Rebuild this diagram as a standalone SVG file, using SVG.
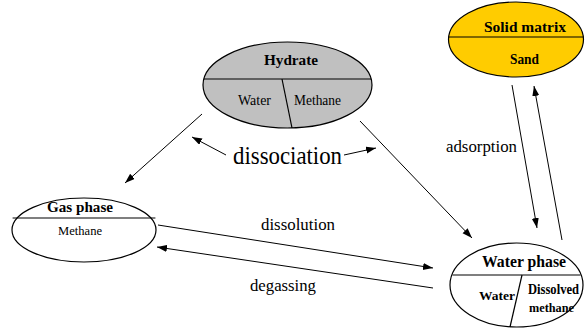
<svg xmlns="http://www.w3.org/2000/svg" width="585" height="329" viewBox="0 0 585 329">
<defs>
<marker id="arr" markerUnits="userSpaceOnUse" markerWidth="11" markerHeight="8" refX="10" refY="3.5" orient="auto">
<path d="M0,0 L10,3.5 L0,7 z" fill="#000"/>
</marker>
<style>
.node ellipse{stroke:#000;stroke-width:1.2}
.div{stroke:#000;stroke-width:1.2;fill:none}
text{fill:#000;font-family:'Liberation Serif','DejaVu Serif',serif}
.b{font-weight:bold}
.conn line{stroke:#000;stroke-width:1;marker-end:url(#arr)}
</style>
</defs>
<rect width="585" height="329" fill="#fff"/>
<g id="hydrate" class="node">
<ellipse cx="287.5" cy="85" rx="84.5" ry="43" fill="#c0c0c0"/>
<line class="div" x1="203.8" y1="79" x2="371.2" y2="79"/>
<line class="div" x1="282" y1="79" x2="292" y2="128"/>
<text class="b" x="264" y="65" font-size="15" textLength="54" lengthAdjust="spacingAndGlyphs">Hydrate</text>
<text x="238" y="105" font-size="14" textLength="33" lengthAdjust="spacingAndGlyphs">Water</text>
<text x="294" y="105" font-size="14" textLength="47" lengthAdjust="spacingAndGlyphs">Methane</text>
</g>
<g id="solid" class="node">
<ellipse cx="516" cy="39.5" rx="67.5" ry="37.5" fill="#ffcc00"/>
<line class="div" x1="448.7" y1="37" x2="583.3" y2="37"/>
<text class="b" x="484" y="32" font-size="15.5" textLength="82" lengthAdjust="spacingAndGlyphs">Solid matrix</text>
<text class="b" x="510" y="64" font-size="14" textLength="29" lengthAdjust="spacingAndGlyphs">Sand</text>
</g>
<g id="gas" class="node">
<ellipse cx="84" cy="230" rx="72" ry="32" fill="#fff"/>
<line class="div" x1="12.6" y1="218" x2="155.4" y2="218"/>
<text class="b" x="47" y="212" font-size="15" textLength="66" lengthAdjust="spacingAndGlyphs">Gas phase</text>
<text x="58" y="235" font-size="13.5" textLength="44" lengthAdjust="spacingAndGlyphs">Methane</text>
</g>
<g id="water" class="node">
<ellipse cx="516.5" cy="285" rx="66.5" ry="42" fill="#fff"/>
<line class="div" x1="452.5" y1="275" x2="580.5" y2="275"/>
<line class="div" x1="522" y1="275" x2="510" y2="327"/>
<text class="b" x="482" y="267" font-size="16" textLength="84" lengthAdjust="spacingAndGlyphs">Water phase</text>
<text class="b" x="479" y="300" font-size="13.5" textLength="36" lengthAdjust="spacingAndGlyphs">Water</text>
<text class="b" x="528" y="294" font-size="14" textLength="51" lengthAdjust="spacingAndGlyphs">Dissolved</text>
<text class="b" x="529" y="312" font-size="13.5" textLength="45" lengthAdjust="spacingAndGlyphs">methane</text>
</g>
<g id="connectors" class="conn">
<line x1="202" y1="114" x2="125" y2="183"/>
<line x1="360" y1="121" x2="472" y2="238"/>
<line x1="226" y1="155" x2="192" y2="137"/>
<line x1="344" y1="155" x2="376" y2="148"/>
<line x1="158" y1="225" x2="433" y2="268"/>
<line x1="433" y1="288" x2="157" y2="247"/>
<line x1="512" y1="85" x2="537" y2="228"/>
<line x1="562" y1="240" x2="534" y2="86"/>
</g>
<g id="labels">
<text x="233" y="164" font-size="25" textLength="109" lengthAdjust="spacingAndGlyphs">dissociation</text>
<text x="261" y="230" font-size="17.5" textLength="74" lengthAdjust="spacingAndGlyphs">dissolution</text>
<text x="250" y="291" font-size="17.5" textLength="66" lengthAdjust="spacingAndGlyphs">degassing</text>
<text x="446" y="152" font-size="17" textLength="71" lengthAdjust="spacingAndGlyphs">adsorption</text>
</g>
</svg>
